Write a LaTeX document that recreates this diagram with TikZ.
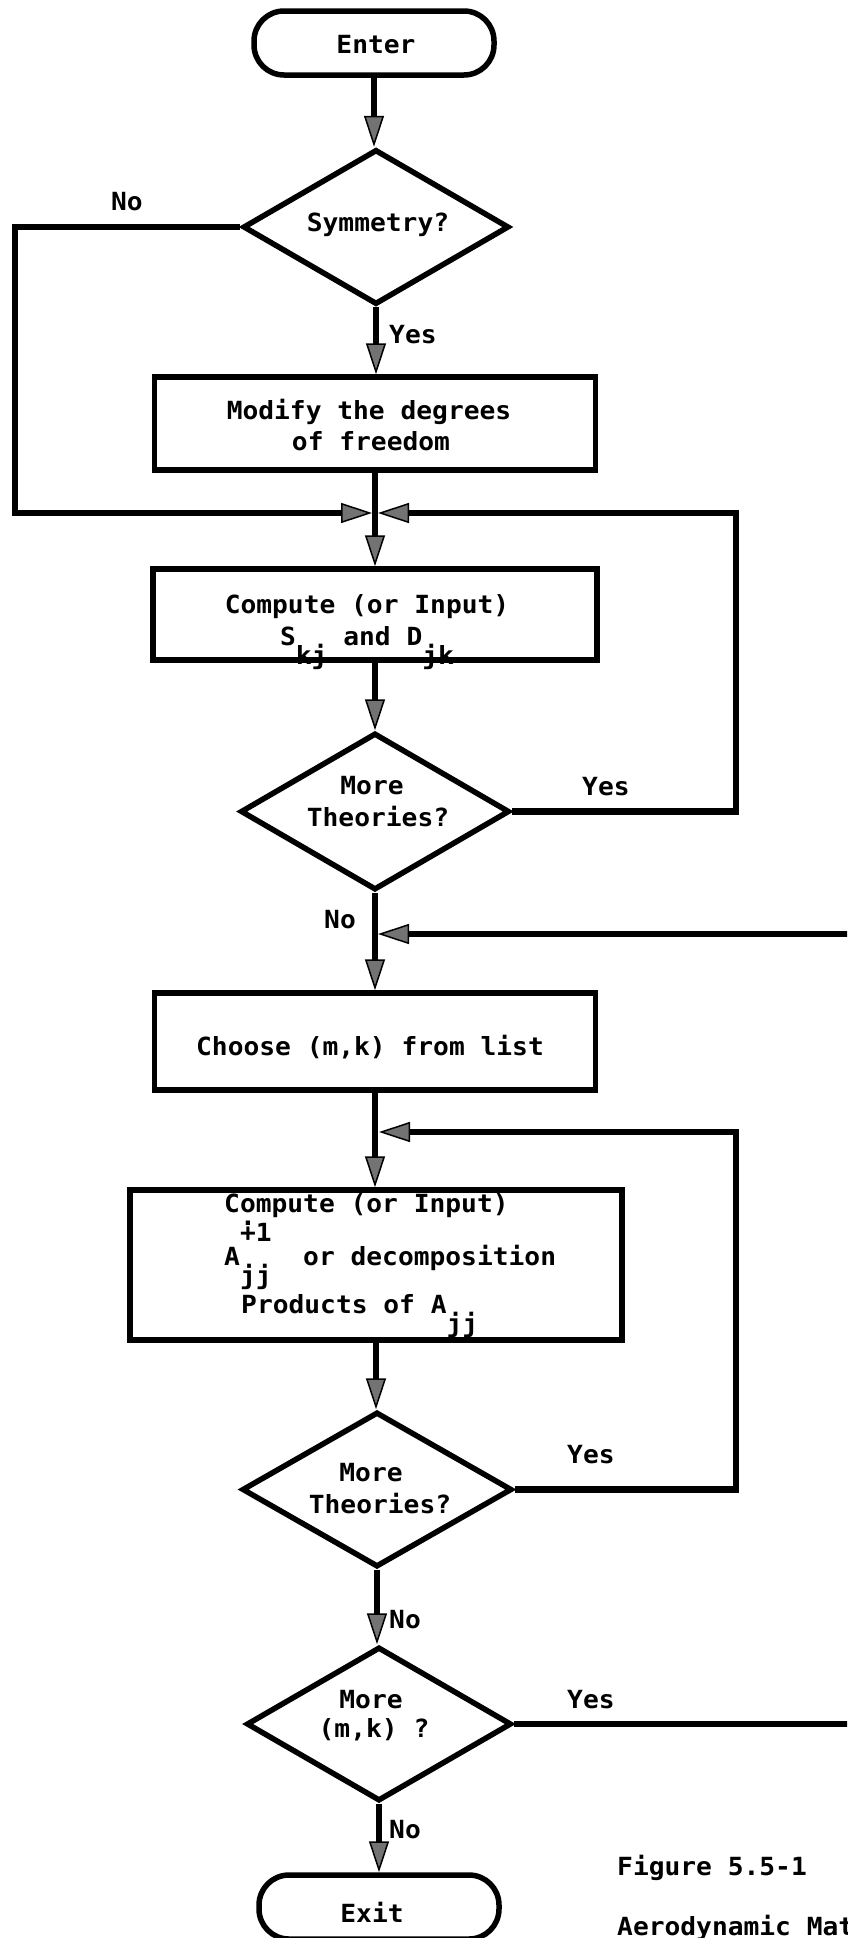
\documentclass[tikz,border=0pt]{standalone}
\usepackage{fontspec}
\newfontfamily\flowfont{DejaVu Sans Mono}[FakeStretch=1.05]
\usetikzlibrary{arrows.meta,shapes.geometric}

% dot-plus sign used in the inverse exponent
\newcommand{\dotplus}{\rlap{+}\raisebox{0.62em}{.}}
\newcommand{\lowsub}[1]{\raisebox{-19pt}[0pt][0pt]{#1}}

\tikzset{
  flowline/.style={line width=6.5pt},
  flowarrow/.style={line width=6.5pt,
    -{Triangle[length=31pt,width=20pt,line width=1.5pt,fill=black!55]}},
  procbox/.style={draw, line width=5.5pt, rectangle, inner sep=0pt},
  decision/.style={draw, line width=5.5pt, diamond, inner sep=0pt},
  term/.style={draw, line width=5.5pt, rectangle, rounded corners=30pt,
    inner sep=0pt, minimum width=240pt, minimum height=64pt},
  txt/.style={font=\flowfont\bfseries\fontsize{25}{29}\selectfont,
    inner sep=0pt, anchor=base},
  txtw/.style={txt, anchor=base west}
}

\begin{document}
\begin{tikzpicture}[x=1pt,y=-1pt]
\useasboundingbox (0,0) rectangle (847,1938);
\fill[white] (0,0) rectangle (847,1938);
\clip (0,0) rectangle (847,1938);

% ---- shapes ----
\node[term] (enter) at (374,43) {};
\node[decision, minimum width=266pt, minimum height=155pt] (sym) at (376,227) {};
\node[procbox, minimum width=441pt, minimum height=93pt] (modify) at (375,423.5) {};
\node[procbox, minimum width=444pt, minimum height=91pt] (cmp) at (375,614.5) {};
\node[decision, minimum width=269pt, minimum height=157pt] (more1) at (375,811.5) {};
\node[procbox, minimum width=441pt, minimum height=97pt] (choose) at (375,1041.5) {};
\node[procbox, minimum width=492pt, minimum height=150pt] (cmpA) at (376,1265) {};
\node[decision, minimum width=270pt, minimum height=155pt] (more2) at (377,1489.5) {};
\node[decision, minimum width=265pt, minimum height=154pt] (moremk) at (379,1724) {};
\node[term] (exit) at (379,1907) {};

% ---- texts ----
\node[txt] (enterT) at (376,53) {Enter};
\node[txt] (symT) at (378,231) {Symmetry?};
\node[txt] (noA) at (127,210) {No};
\node[txtw] (yesA) at (389,343) {Yes};
\node[txt] (modT1) at (369,419) {Modify the degrees};
\node[txt] (modT2) at (371,450) {of freedom};
\node[txt] (cmpT1) at (367,613) {Compute (or Input)};
\node[txt] (cmpT2) at (367,645) {S\lowsub{kj} and D\lowsub{jk}};
\node[txt] (mt1) at (372,794) {More};
\node[txt] (mt2) at (378,826) {Theories?};
\node[txtw] (yesB) at (582,795) {Yes};
\node[txtw] (noB) at (324,928) {No};
\node[txt] (chT) at (370,1055) {Choose (m,k) from list};
\node[txtw] (caT1) at (224,1212) {Compute (or Input)};
\node[txtw] (caT2) at (224,1265)
  {A\rlap{\raisebox{24pt}[0pt][0pt]{\dotplus 1}}\lowsub{jj}\ \ or decomposition};
\node[txtw] (caT3) at (241,1313) {Products of A\lowsub{jj}};
\node[txt] (mt3) at (371,1481) {More};
\node[txt] (mt4) at (380,1513) {Theories?};
\node[txtw] (yesC) at (567,1463) {Yes};
\node[txtw] (noC) at (389,1628) {No};
\node[txt] (mk1) at (371,1708) {More};
\node[txt] (mk2) at (374,1737) {(m,k) ?};
\node[txtw] (yesD) at (567,1708) {Yes};
\node[txtw] (noD) at (389,1838) {No};
\node[txt] (exitT) at (372,1922) {Exit};
\node[txtw] (fig1) at (617,1875) {Figure 5.5-1};
\node[txtw] (fig2) at (617,1935) {Aerodynamic Matrix};

% ---- junctions and rails ----
\coordinate (j1) at (375,513);
\coordinate (j2) at (375,934);
\coordinate (j3) at (376,1132);
\coordinate (leftrail) at (15,513);
\coordinate (rail1) at (736,513);
\coordinate (rail2) at (736,1132);
\coordinate (feedin) at (870,934);
\coordinate (feedout) at (870,1724);

% ---- connectors ----
\draw[flowarrow] (enter.south) -- (enter.south |- sym.north);
\draw[flowarrow] (sym.south) -- (sym.south |- modify.north);
\draw[flowarrow, shorten >=3pt] (sym.west) -| (leftrail) -- (j1);
\draw[flowarrow] (modify.south) -- (modify.south |- cmp.north);
\draw[flowarrow] (cmp.south) -- (cmp.south |- more1.north);
\draw[flowarrow, shorten >=3pt] (more1.east) -| (rail1) -- (j1);
\draw[flowarrow] (more1.south) -- (more1.south |- choose.north);
\draw[flowarrow, shorten >=3pt] (feedin) -- (j2);
\draw[flowarrow] (choose.south) -- (choose.south |- cmpA.north);
\draw[flowarrow, shorten >=3pt] (more2.east) -| (rail2) -- (j3);
\draw[flowarrow] (cmpA.south) -- (cmpA.south |- more2.north);
\draw[flowarrow] (more2.south) -- (more2.south |- moremk.north);
\draw[flowline] (moremk.east) -- (moremk.east -| feedout);
\draw[flowarrow] (moremk.south) -- (moremk.south |- exit.north);
\end{tikzpicture}
\end{document}
